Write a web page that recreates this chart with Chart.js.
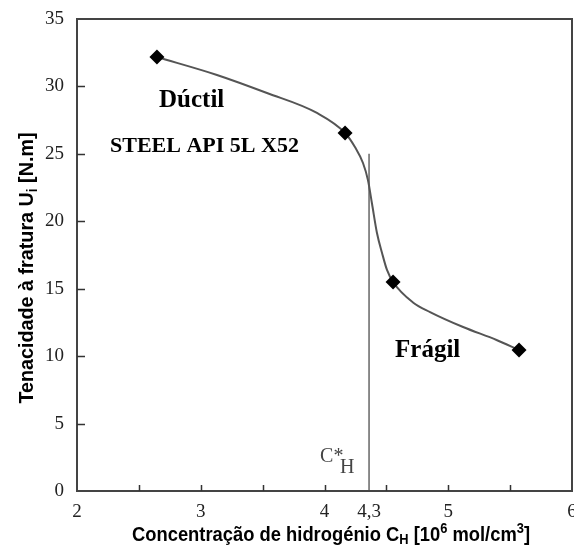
<!DOCTYPE html>
<html>
<head>
<meta charset="utf-8">
<script src="https://cdn.jsdelivr.net/npm/chart.js@4/dist/chart.umd.min.js"></script>
<style>
  html, body { margin: 0; padding: 0; background: #fff; }
</style>
</head>
<body>
<canvas id="grafico" width="574" height="545"></canvas>
<script>
const pontosX = [2.646, 4.166, 4.554, 5.572];
const pontosY = [32.18, 26.55, 15.50, 10.46];

// traçado da curva suave
const curvaX = [2.646, 3.131, 3.535, 3.939, 4.166, 4.246, 4.311, 4.351, 4.384, 4.424, 4.465, 4.505, 4.554, 4.715, 4.853, 5.120, 5.390, 5.572];
const curvaY = [32.18, 30.85, 29.51, 28.03, 26.55, 25.51, 24.32, 23.06, 21.30, 19.13, 17.65, 16.39, 15.50, 13.98, 13.27, 12.16, 11.20, 10.46];

// concentração crítica C*H
const cCritica = 4.36;
const cCriticaTexto = '4,3';
const linhaCriticaY = [0, 25];

// eixos
const ticksX = [2, 2.5, 3, 3.5, 4, cCritica, 4.5, 5, 5.5, 6];
const rotulosX = ['2', '', '3', '', '4', cCriticaTexto, '', '5', '', '6'];
const ticksY = [0, 5, 10, 15, 20, 25, 30, 35];

const serif = '"Liberation Serif", "Times New Roman", serif';
const sans = '"Liberation Sans", Arial, sans-serif';

// desenha um título com subscritos/sobrescritos, comprimido na largura pedida
function textoRico(ctx, partes, largura) {
    let total = 0;
    partes.forEach(p => {
        ctx.font = `bold ${p[1]}px ${sans}`;
        total += ctx.measureText(p[0]).width;
    });
    ctx.scale(largura / total, 1);
    let cx = -total / 2;
    partes.forEach(p => {
        ctx.font = `bold ${p[1]}px ${sans}`;
        ctx.fillText(p[0], cx, p[2]);
        cx += ctx.measureText(p[0]).width;
    });
}

const decoracao = {
    id: 'decoracao',
    afterDraw(chart) {
        const { ctx, chartArea: a, scales: { x, y } } = chart;
        ctx.save();

        // moldura
        ctx.strokeStyle = '#444';
        ctx.lineWidth = 2;
        ctx.strokeRect(a.left, a.top, a.right - a.left, a.bottom - a.top);

        // marcas dos eixos, para dentro
        ctx.strokeStyle = '#333';
        ctx.lineWidth = 1.5;
        ctx.beginPath();
        ticksY.slice(1, -1).forEach(v => {
            const py = Math.round(y.getPixelForValue(v)) + 0.5;
            ctx.moveTo(a.left, py);
            ctx.lineTo(a.left + 8, py);
        });
        ticksX.slice(1, -1).forEach(v => {
            if (v === cCritica) return;
            const px = Math.round(x.getPixelForValue(v)) + 0.5;
            ctx.moveTo(px, a.bottom);
            ctx.lineTo(px, a.bottom - 6);
        });
        ctx.stroke();

        // anotações
        ctx.fillStyle = '#000';
        ctx.textAlign = 'left';
        ctx.textBaseline = 'alphabetic';
        ctx.font = `bold 25px ${serif}`;
        ctx.fillText('Dúctil', x.getPixelForValue(2.663), y.getPixelForValue(28.47));
        ctx.fillText('Frágil', x.getPixelForValue(4.570), y.getPixelForValue(9.94));
        ctx.font = `bold 22px ${serif}`;
        ctx.fillText('STEEL API 5L X52', x.getPixelForValue(2.267), y.getPixelForValue(25.14));

        ctx.fillStyle = '#444';
        ctx.font = `20px ${serif}`;
        ctx.fillText('C*', x.getPixelForValue(3.964), y.getPixelForValue(2.15));
        ctx.fillText('H', x.getPixelForValue(4.125), y.getPixelForValue(1.33));

        // título do eixo Y
        ctx.fillStyle = '#000';
        ctx.save();
        ctx.translate(33, 268);
        ctx.rotate(-Math.PI / 2);
        textoRico(ctx, [
            ['Tenacidade à fratura U', 20, 0],
            ['i', 14, 4],
            [' [N.m]', 20, 0]
        ], 271);
        ctx.restore();

        // título do eixo X
        ctx.save();
        ctx.translate(331, 541);
        textoRico(ctx, [
            ['Concentração de hidrogénio C', 20, 0],
            ['H', 14, 3],
            [' [10', 20, 0],
            ['6', 14, -8],
            [' mol/cm', 20, 0],
            ['3', 14, -8],
            [']', 20, 0]
        ], 398);
        ctx.restore();

        ctx.restore();
    }
};

new Chart(document.getElementById('grafico').getContext('2d'), {
    type: 'scatter',
    data: {
        datasets: [
            {
                data: pontosX.map((v, i) => ({ x: v, y: pontosY[i] })),
                showLine: false,
                pointStyle: 'rectRot',
                pointRadius: 7.5,
                pointHoverRadius: 7.5,
                backgroundColor: '#000',
                borderColor: '#000',
                borderWidth: 0
            },
            {
                data: curvaX.map((v, i) => ({ x: v, y: curvaY[i] })),
                showLine: true,
                pointRadius: 0,
                borderColor: '#555',
                borderWidth: 2,
                cubicInterpolationMode: 'monotone'
            },
            {
                data: linhaCriticaY.map(v => ({ x: cCritica, y: v })),
                showLine: true,
                pointRadius: 0,
                borderColor: '#666',
                borderWidth: 1.5
            }
        ]
    },
    options: {
        responsive: false,
        animation: false,
        devicePixelRatio: 1,
        layout: { autoPadding: false, padding: { top: 19, right: 2, left: 0, bottom: 0 } },
        plugins: { legend: { display: false }, tooltip: { enabled: false } },
        scales: {
            x: {
                type: 'linear',
                min: 2,
                max: 6,
                afterBuildTicks: scale => { scale.ticks = ticksX.map(v => ({ value: v })); },
                afterFit: scale => {
                    scale.height = 54;
                    scale.paddingLeft = 0;
                    scale.paddingRight = 0;
                },
                grid: { display: false, drawTicks: false },
                border: { display: false },
                ticks: {
                    autoSkip: false,
                    maxRotation: 0,
                    padding: 10,
                    color: '#222',
                    font: { family: serif, size: 19 },
                    callback: (v, i) => rotulosX[i]
                }
            },
            y: {
                type: 'linear',
                min: 0,
                max: 35,
                afterBuildTicks: scale => { scale.ticks = ticksY.map(v => ({ value: v })); },
                afterFit: scale => {
                    scale.width = 77;
                    scale.paddingTop = 0;
                    scale.paddingBottom = 0;
                },
                grid: { display: false, drawTicks: false },
                border: { display: false },
                ticks: {
                    padding: 13,
                    color: '#222',
                    font: { family: serif, size: 19 }
                }
            }
        }
    },
    plugins: [decoracao]
});
</script>
</body>
</html>
